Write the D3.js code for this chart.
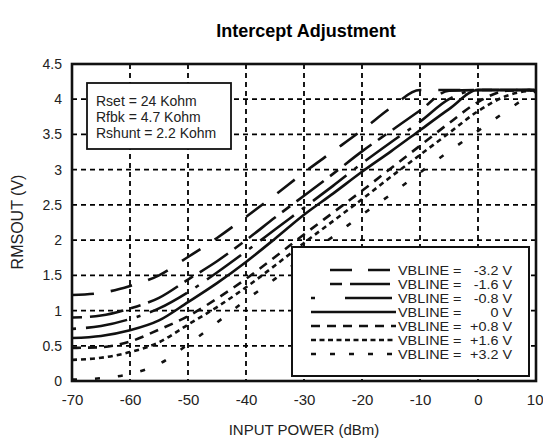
<!DOCTYPE html>
<html>
<head>
<meta charset="utf-8">
<script src="https://cdn.jsdelivr.net/npm/d3@7"></script>
<style>
  html, body { margin: 0; padding: 0; background: #fff; }
  svg { display: block; font-family: "Liberation Sans", Arial, Helvetica, sans-serif; }
</style>
</head>
<body>
<svg id="chart" width="543" height="439"></svg>
<script>
// ---- data ----
const power = [-70,-65,-60,-55,-50,-45,-40,-35,-30,-25,-20,-15,-10,-5,0,5,10];
const vblineM32 = [1.22,1.25,1.35,1.50,1.76,2.03,2.33,2.64,2.96,3.26,3.56,3.88,4.13,4.13,4.13,4.13,4.13];
const vblineM16 = [0.90,0.93,1.03,1.18,1.44,1.70,2.00,2.32,2.63,2.94,3.26,3.55,3.84,4.12,4.13,4.13,4.13];
const vblineM08 = [0.74,0.78,0.88,1.03,1.26,1.54,1.84,2.15,2.46,2.77,3.09,3.39,3.68,4.00,4.13,4.13,4.13];
const vbline0   = [0.61,0.64,0.72,0.86,1.12,1.39,1.69,2.02,2.36,2.66,2.97,3.26,3.56,3.86,4.13,4.13,4.13];
const vblineP08 = [0.47,0.48,0.56,0.73,0.92,1.17,1.45,1.76,2.08,2.39,2.70,3.02,3.34,3.66,3.96,4.12,4.13];
const vblineP16 = [0.30,0.33,0.41,0.55,0.80,1.05,1.33,1.64,1.96,2.27,2.58,2.90,3.21,3.52,3.83,4.05,4.13];
const vblineP32 = [0.02,0.04,0.10,0.24,0.52,0.83,1.15,1.45,1.76,2.05,2.36,2.65,2.96,3.26,3.55,3.84,4.12];

const seriesValues = [vblineM32, vblineM16, vblineM08, vbline0, vblineP08, vblineP16, vblineP32];
const seriesLabels = ["-3.2 V", "-1.6 V", "-0.8 V", "0 V", "+0.8 V", "+1.6 V", "+3.2 V"];
const xTickValues = [-70,-60,-50,-40,-30,-20,-10,0,10];
const yTickValues = [0,0.5,1,1.5,2,2.5,3,3.5,4,4.5];
const yTickLabels = ["0","0.5","1","1.5","2","2.5","3","3.5","4","4.5"];
const infoLines = ["Rset = 24 Kohm", "Rfbk = 4.7 Kohm", "Rshunt = 2.2 Kohm"];

// ---- styles ----
const curveDash  = ["22,17", "10,8,34,8", "4,10,42,10", null, "9,7", "5,4", "5,18"];
const legendDash = ["0,19,22,16,22,40", "0,19,12,8,40,40", "4,30,47,40", null, "9,7", "5,3.5", "5,14"];

const svg = d3.select("#chart");
const M = {left: 72, right: 536, top: 64, bottom: 381};

const x = d3.scaleLinear().domain([-70, 10]).range([M.left, M.right]);
const y = d3.scaleLinear().domain([0, 4.5]).range([M.bottom, M.top]);

// title
svg.append("text").attr("x", 306).attr("y", 37).attr("text-anchor", "middle")
  .attr("font-size", 18).attr("font-weight", "bold").text("Intercept Adjustment");

// grid
const grid = svg.append("g").attr("stroke", "#000").attr("stroke-width", 1.8)
  .attr("stroke-dasharray", "5,4").attr("fill", "none");
grid.selectAll("line.v").data(xTickValues.filter(d => d > -70 && d < 10)).enter()
  .append("line").attr("x1", d => x(d)).attr("x2", d => x(d))
  .attr("y1", M.top).attr("y2", M.bottom);
grid.selectAll("line.h").data(yTickValues.filter(d => d > 0 && d < 4.5)).enter()
  .append("line").attr("y1", d => y(d)).attr("y2", d => y(d))
  .attr("x1", M.left).attr("x2", M.right);

// clip
svg.append("clipPath").attr("id", "clip").append("rect")
  .attr("x", M.left).attr("y", M.top).attr("width", M.right - M.left).attr("height", M.bottom - M.top);

// curves
const line = d3.line().x(d => x(d[0])).y(d => y(d[1])).curve(d3.curveMonotoneX);
const curves = svg.append("g").attr("clip-path", "url(#clip)");
seriesValues.forEach((vals, i) => {
  const pts = power.map((p, k) => [p, vals[k]]);
  const path = curves.append("path").attr("d", line(pts)).attr("fill", "none")
    .attr("stroke", "#111").attr("stroke-width", 2.6).attr("stroke-linecap", "butt");
  if (curveDash[i]) path.attr("stroke-dasharray", curveDash[i]);
});

// axes (labels only, frame drawn separately)
const xAxis = d3.axisBottom(x).tickValues(xTickValues).tickSize(0).tickPadding(13)
  .tickFormat(d3.format("d"));
const gx = svg.append("g").attr("transform", `translate(0,${M.bottom})`).call(xAxis);
gx.select(".domain").remove();
gx.selectAll("text").attr("font-size", 15).attr("fill", "#222")
  .attr("font-family", "Liberation Sans, Arial, sans-serif")
  .text(d => d < 0 ? "-" + Math.abs(d) : String(d));
// the last label sits at the right edge of the picture: keep it inside
gx.selectAll(".tick").filter(d => d === 10).select("text")
  .attr("text-anchor", "end").attr("x", 543 - M.right);

const yAxis = d3.axisLeft(y).tickValues(yTickValues).tickSize(0).tickPadding(10)
  .tickFormat((d, i) => yTickLabels[i]);
const gy = svg.append("g").attr("transform", `translate(${M.left},0)`).call(yAxis);
gy.select(".domain").remove();
gy.selectAll("text").attr("font-size", 14).attr("fill", "#222")
  .attr("font-family", "Liberation Sans, Arial, sans-serif");

// frame
svg.append("rect").attr("x", M.left).attr("y", M.top)
  .attr("width", M.right - M.left).attr("height", M.bottom - M.top)
  .attr("fill", "none").attr("stroke", "#111").attr("stroke-width", 2.6);

// axis titles
svg.append("text").attr("x", 304).attr("y", 435).attr("text-anchor", "middle")
  .attr("font-size", 15).attr("fill", "#222").text("INPUT POWER (dBm)");
svg.append("text").attr("transform", "translate(23,222) rotate(-90)").attr("text-anchor", "middle")
  .attr("font-size", 16).attr("fill", "#222").text("RMSOUT (V)");

// info box
const info = svg.append("g");
info.append("rect").attr("x", 87).attr("y", 83).attr("width", 144).attr("height", 66)
  .attr("fill", "#fff").attr("stroke", "#111").attr("stroke-width", 1.8);
info.selectAll("text").data(infoLines).enter().append("text")
  .attr("x", 96).attr("y", (d, i) => 101 + i * 16).attr("dy", "0.35em")
  .attr("font-size", 14).attr("fill", "#222").text(d => d);

// legend
const lg = svg.append("g");
lg.append("rect").attr("x", 292).attr("y", 247).attr("width", 237).attr("height", 129)
  .attr("fill", "#fff").attr("stroke", "#111").attr("stroke-width", 2);
seriesLabels.forEach((lab, i) => {
  const yy = 271 + i * 14;
  const l = lg.append("line").attr("x1", 311).attr("x2", 396).attr("y1", yy - 1).attr("y2", yy - 1)
    .attr("stroke", "#111").attr("stroke-width", 2.6);
  if (legendDash[i]) l.attr("stroke-dasharray", legendDash[i]);
  lg.append("text").attr("transform", `translate(398,${yy}) scale(1.15,1)`).attr("dy", "0.35em")
    .attr("font-size", 12.5).attr("fill", "#222").text("VBLINE =");
  lg.append("text").attr("transform", `translate(512,${yy}) scale(1.15,1)`).attr("dy", "0.35em")
    .attr("text-anchor", "end")
    .attr("font-size", 12.5).attr("fill", "#222").text(lab);
});
</script>
</body>
</html>
